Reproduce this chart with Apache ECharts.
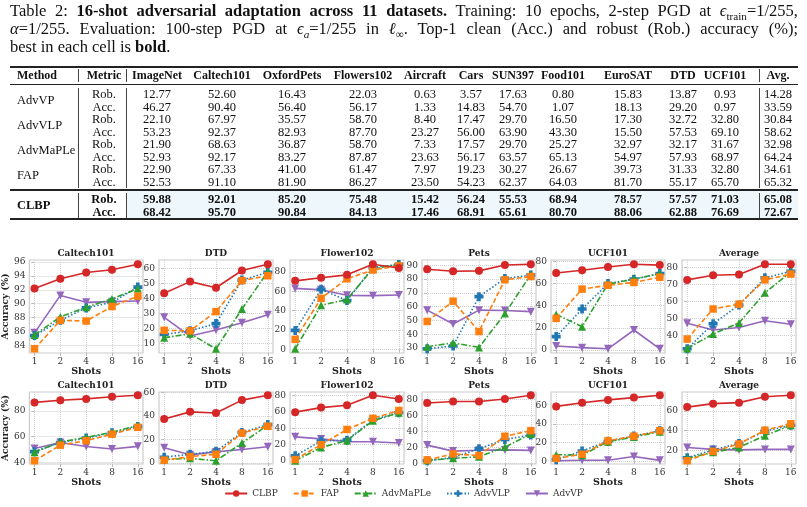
<!DOCTYPE html>
<html>
<head>
<meta charset="utf-8">
<script src="https://cdn.jsdelivr.net/npm/echarts@6/dist/echarts.min.js"></script>
<style>
body { margin: 0; background: #fff; }
#page { position: relative; width: 807px; height: 507px; overflow: hidden; font-family: "Liberation Serif", "DejaVu Serif", serif; color: #111; }
#chart { position: absolute; left: 0; top: 0; width: 807px; height: 507px; }
.cap { position: absolute; left: 10px; font-size: 15px; line-height: 18px; white-space: nowrap; }
.cell { position: absolute; font-size: 12.5px; line-height: 13px; transform: translate(-50%, -50%); white-space: nowrap; }
.lcell { position: absolute; font-size: 12.5px; line-height: 13px; transform: translate(0, -50%); white-space: nowrap; }
.hd { font-size: 12px; font-weight: bold; }
.rule { position: absolute; left: 10px; width: 788px; background: #222; }
.vbar { position: absolute; width: 1px; background: #444; }
sub { font-size: 0.68em; line-height: 0; }
</style>
</head>
<body>
<div id="page">
    <div id="chart"></div>
    <div id="table"></div>
</div>
<script>
// ---- table ----
const tableCols = ['ImageNet', 'Caltech101', 'OxfordPets', 'Flowers102', 'Aircraft', 'Cars', 'SUN397', 'Food101', 'EuroSAT', 'DTD', 'UCF101', 'Avg.']
const advvpRob = ['12.77', '52.60', '16.43', '22.03', '0.63', '3.57', '17.63', '0.80', '15.83', '13.87', '0.93', '14.28']
const advvpAcc = ['46.27', '90.40', '56.40', '56.17', '1.33', '14.83', '54.70', '1.07', '18.13', '29.20', '0.97', '33.59']
const advvlpRob = ['22.10', '67.97', '35.57', '58.70', '8.40', '17.47', '29.70', '16.50', '17.30', '32.72', '32.80', '30.84']
const advvlpAcc = ['53.23', '92.37', '82.93', '87.70', '23.27', '56.00', '63.90', '43.30', '15.50', '57.53', '69.10', '58.62']
const advmapleRob = ['21.90', '68.63', '36.87', '58.70', '7.33', '17.57', '29.70', '25.27', '32.97', '32.17', '31.67', '32.98']
const advmapleAcc = ['52.93', '92.17', '83.27', '87.87', '23.63', '56.17', '63.57', '65.13', '54.97', '57.93', '68.97', '64.24']
const fapRob = ['22.90', '67.33', '41.00', '61.47', '7.97', '19.23', '30.27', '26.67', '39.73', '31.33', '32.80', '34.61']
const fapAcc = ['52.53', '91.10', '81.90', '86.27', '23.50', '54.23', '62.37', '64.03', '81.70', '55.17', '65.70', '65.32']
const clbpRob = ['59.88', '92.01', '85.20', '75.48', '15.42', '56.24', '55.53', '68.94', '78.57', '57.57', '71.03', '65.08']
const clbpAcc = ['68.42', '95.70', '90.84', '84.13', '17.46', '68.91', '65.61', '80.70', '88.06', '62.88', '76.69', '72.67']

// ---- charts (method order: CLBP, FAP, AdvMaPLe, AdvVLP, AdvVP) ----
const shots = ['1', '2', '4', '8', '16']
const methods = ['CLBP', 'FAP', 'AdvMaPLe', 'AdvVLP', 'AdvVP']
const chartTitles = ['Caltech101', 'DTD', 'Flower102', 'Pets', 'UCF101', 'Average']

const accCaltech = [[92.2, 93.6, 94.5, 94.9, 95.7], [83.5, 87.6, 87.5, 89.6, 91.1], [85.5, 88.1, 89.5, 90.7, 92.2], [85.4, 87.6, 89.4, 90.2, 92.4], [85.8, 91.2, 90.2, 90.3, 90.4]]
const accDtd = [[43.5, 51.3, 47.2, 58.7, 62.9], [18.8, 18.5, 31.3, 52.0, 55.2], [13.8, 16.5, 6.5, 33.0, 57.9], [16.0, 18.5, 23.3, 52.3, 57.5], [27.5, 15.0, 19.0, 23.8, 29.2]]
const accFlower = [[70.8, 74.0, 77.0, 88.0, 84.1], [10.2, 52.7, 73.0, 82.0, 86.3], [0.5, 45.5, 51.5, 83.5, 87.9], [19.5, 62.0, 50.5, 84.5, 87.7], [63.0, 61.5, 55.8, 55.5, 56.2]]
const accPets = [[87.2, 85.7, 86.0, 90.2, 90.8], [49.3, 64.0, 42.0, 79.5, 81.9], [31.0, 33.8, 30.5, 55.0, 83.3], [29.5, 31.5, 67.3, 80.5, 82.9], [57.5, 47.5, 57.5, 57.3, 56.4]]
const accUcf = [[69.5, 72.0, 75.0, 77.5, 76.7], [28.5, 55.0, 58.5, 61.0, 65.7], [32.0, 21.0, 59.5, 64.0, 69.0], [12.0, 37.0, 60.0, 64.0, 69.1], [3.5, 2.0, 1.0, 18.0, 1.0]]
const accAvg = [[72.8, 75.5, 76.0, 82.0, 82.0], [38.0, 55.7, 58.5, 72.8, 76.2], [32.5, 41.0, 47.5, 65.2, 77.5], [32.3, 47.0, 58.0, 74.0, 77.8], [47.3, 43.3, 44.8, 48.8, 46.7]]

const robCaltech = [[86.5, 88.2, 89.2, 90.9, 92.0], [41.5, 53.5, 57.0, 62.0, 67.3], [48.0, 56.0, 59.5, 63.5, 68.6], [48.5, 55.5, 59.0, 63.0, 68.0], [51.0, 55.5, 52.5, 50.5, 52.6]]
const robDtd = [[37.5, 43.5, 42.5, 53.5, 57.6], [2.5, 5.5, 7.5, 25.5, 31.3], [3.0, 4.0, 2.0, 17.0, 32.2], [5.0, 7.5, 10.0, 26.0, 32.7], [13.0, 7.0, 9.5, 11.5, 13.9]]
const robFlower = [[59.5, 65.0, 67.8, 80.0, 75.5], [2.0, 20.0, 38.5, 52.0, 61.5], [0.5, 16.5, 25.0, 49.0, 58.7], [6.5, 24.5, 25.5, 50.5, 58.7], [29.5, 27.0, 23.5, 23.5, 22.0]]
const robPets = [[75.5, 77.5, 77.5, 80.5, 85.2], [4.5, 12.0, 10.0, 34.0, 41.0], [4.0, 6.5, 8.5, 20.5, 36.9], [3.5, 7.5, 18.5, 30.0, 35.6], [23.0, 15.5, 16.5, 17.0, 16.4]]
const robUcf = [[59.0, 63.0, 66.0, 68.5, 71.0], [3.0, 7.5, 22.0, 27.0, 32.8], [7.0, 6.5, 21.0, 26.0, 31.7], [1.5, 11.0, 21.5, 27.0, 32.8], [0.5, 1.0, 1.0, 5.0, 0.9]]
const robAvg = [[64.0, 67.5, 68.5, 74.5, 76.0], [9.5, 19.0, 26.5, 40.5, 47.0], [12.0, 18.0, 23.0, 35.0, 45.5], [12.5, 20.5, 27.0, 39.5, 45.5], [23.0, 21.0, 20.5, 21.0, 21.0]]

const accTicks = [[84, 86, 88, 90, 92, 94, 96], [10, 20, 30, 40, 50, 60], [0, 20, 40, 60, 80], [30, 40, 50, 60, 70, 80, 90], [0, 20, 40, 60, 80], [40, 50, 60, 70, 80]]
const robTicks = [[40, 60, 80], [0, 20, 40, 60], [0, 20, 40, 60, 80], [0, 20, 40, 60, 80], [0, 20, 40, 60], [20, 40, 60]]

function buildTable(){
    const box = document.getElementById('table')
    let html = ''
    html += '<div class="cap" id="cap1" style="top:2px">Table 2: <b>16-shot adversarial adaptation across 11 datasets.</b> Training: 10 epochs, 2-step PGD at <i>ϵ</i><sub>train</sub>=1/255,</div>'
    html += '<div class="cap" id="cap2" style="top:20px"><i>α</i>=1/255. Evaluation: 100-step PGD at <i>ϵ<sub>a</sub></i>=1/255 in <i>ℓ</i><sub>∞</sub>. Top-1 clean (Acc.) and robust (Rob.) accuracy (%);</div>'
    html += '<div class="cap" id="cap3" style="top:38px">best in each cell is <b>bold</b>.</div>'
    // light blue band behind CLBP
    html += '<div style="position:absolute;left:126px;top:190px;width:672px;height:28px;background:#eef7fc"></div>'
    html += '<div class="rule" style="top:66px;height:1.6px"></div>'
    html += '<div class="rule" style="top:84px;height:1px"></div>'
    html += '<div class="rule" style="top:189px;height:1.6px"></div>'
    html += '<div class="rule" style="top:218px;height:1.6px"></div>'
    const colX = [157, 222, 292, 363, 425, 471, 513, 563, 628, 683, 725, 778]
    html += '<div class="lcell hd" style="left:17px;top:75px">Method</div>'
    html += '<div class="cell hd" style="left:104px;top:75px">Metric</div>'
    tableCols.forEach((c, i) => {
        html += '<div class="cell hd" style="left:' + colX[i] + 'px;top:75px">' + c + '</div>'
    })
    const vb = (x, y0, y1) => '<div class="vbar" style="left:' + x + 'px;top:' + y0 + 'px;height:' + (y1 - y0) + 'px"></div>'
    html += vb(78, 69, 82) + vb(126, 69, 82) + vb(759, 69, 82)
    const groups = [
        ['AdvVP', advvpRob, advvpAcc, 94, false],
        ['AdvVLP', advvlpRob, advvlpAcc, 119, false],
        ['AdvMaPLe', advmapleRob, advmapleAcc, 144, false],
        ['FAP', fapRob, fapAcc, 169, false],
        ['CLBP', clbpRob, clbpAcc, 199, true]
    ]
    groups.forEach(g => {
        const [name, rob, acc, y, bold] = g
        const y2 = y + 12.5
        const w = bold ? 'font-weight:bold;' : ''
        html += '<div class="lcell" style="left:17px;top:' + (y + 6) + 'px;' + w + '">' + name + '</div>'
        html += '<div class="cell" style="left:104px;top:' + y + 'px;' + w + '">Rob.</div>'
        html += '<div class="cell" style="left:104px;top:' + y2 + 'px;' + w + '">Acc.</div>'
        rob.forEach((v, i) => {
            html += '<div class="cell" style="left:' + colX[i] + 'px;top:' + y + 'px;' + w + '">' + v + '</div>'
            html += '<div class="cell" style="left:' + colX[i] + 'px;top:' + y2 + 'px;' + w + '">' + acc[i] + '</div>'
        })
        html += vb(78, y - 6, y2 + 6) + vb(126, y - 6, y2 + 6) + vb(759, y - 6, y2 + 6)
    })
    box.innerHTML = html

    // fit the caption: size from line 1, then stretch word gaps of lines 1-2 to the full width
    const full = 788
    const c1 = document.getElementById('cap1'), c2 = document.getElementById('cap2'), c3 = document.getElementById('cap3')
    const size = Math.min(16.5, 15 * full / c1.getBoundingClientRect().width)
    ;[c1, c2, c3].forEach(el => { el.style.fontSize = size + 'px' })
    ;[c1, c2].forEach(el => {
        const gaps = (el.textContent.match(/ /g) || []).length
        const extra = full - el.getBoundingClientRect().width
        el.style.wordSpacing = (extra / gaps) + 'px'
    })
}

function buildChart(){
    const colors = ['#d62728', '#ff7f0e', '#2ca02c', '#1f77b4', '#9467bd']
    const dashes = ['solid', [5, 2.5], [6, 2, 1.5, 2], [1.5, 2], 'solid']
    const plus = 'path://M3,0H7V3H10V7H7V10H3V7H0V3H3Z'
    const symbols = ['circle', 'rect', 'triangle', plus, 'triangle']
    const symRot = [0, 0, 0, 0, 180]
    const symSize = [8, 7.5, 8, 9, 8]
    const lefts = [29, 159, 290, 422, 551, 682]
    const rowTop = [260, 392], rowH = [93, 72]
    const rows = [[accCaltech, accDtd, accFlower, accPets, accUcf, accAvg], [robCaltech, robDtd, robFlower, robPets, robUcf, robAvg]]
    const ticks = [accTicks, robTicks]
    const font = 'DejaVu Serif'
    const grid = [], xAxis = [], yAxis = [], series = [], graphic = []
    rows.forEach((row, r) => {
        row.forEach((data, c) => {
            const gi = r * 6 + c
            grid.push({
                left: lefts[c], top: rowTop[r], width: 114, height: rowH[r],
                show: true, borderColor: '#cccccc', borderWidth: 1.2
            })
            const all = [].concat(...data)
            const lo = Math.min(...all), hi = Math.max(...all), pad = (hi - lo) * 0.05
            xAxis.push({
                type: 'value', gridIndex: gi, min: -0.2, max: 4.2,
                axisLine: { show: false },
                axisTick: { show: true, customValues: [0, 1, 2, 3, 4], length: 3, lineStyle: { color: '#bbbbbb' } },
                axisLabel: { customValues: [0, 1, 2, 3, 4], formatter: v => shots[Math.round(v)], fontSize: 9, fontFamily: font, color: '#333', margin: 4 },
                splitLine: { show: true, lineStyle: { type: 'dotted', color: '#cfcfcf', width: 1 } },
                name: 'Shots', nameLocation: 'middle', nameGap: 14,
                nameTextStyle: { fontSize: 9.5, fontWeight: 'bold', fontFamily: font, color: '#222' }
            })
            yAxis.push({
                type: 'value', gridIndex: gi, min: lo - pad, max: hi + pad,
                axisLine: { show: false },
                axisTick: { show: true, customValues: ticks[r][c], length: 3, lineStyle: { color: '#bbbbbb' } },
                axisLabel: { customValues: ticks[r][c], fontSize: 9, fontFamily: font, color: '#333', margin: 4 },
                splitLine: { show: true, lineStyle: { type: 'dotted', color: '#cfcfcf', width: 1 } },
                name: c == 0 ? 'Accuracy (%)' : '', nameLocation: 'middle', nameGap: 18, nameRotate: 90,
                nameTextStyle: { fontSize: 9, fontWeight: 'bold', fontFamily: font, color: '#222' }
            })
            data.forEach((vals, m) => {
                series.push({
                    name: methods[m], type: 'line', xAxisIndex: gi, yAxisIndex: gi,
                    data: vals.map((v, i) => [i, v]),
                    symbol: symbols[m], symbolRotate: symRot[m], symbolSize: symSize[m],
                    lineStyle: { color: colors[m], width: 1.6, type: dashes[m] },
                    itemStyle: { color: colors[m] },
                    z: 10 - m
                })
            })
            graphic.push({
                type: 'text', x: lefts[c] + 57, y: rowTop[r] - 6,
                style: { text: chartTitles[c], font: 'bold 9px "DejaVu Serif"', fill: '#222', align: 'center', verticalAlign: 'middle' }
            })
        })
    })
    const chart = echarts.init(document.getElementById('chart'))
    chart.setOption({
        animation: false,
        grid: grid, xAxis: xAxis, yAxis: yAxis, series: series, graphic: graphic,
        legend: {
            data: methods, left: 'center', top: 484, itemWidth: 22, itemHeight: 8, itemGap: 15,
            textStyle: { fontFamily: font, fontSize: 9, color: '#333' }
        }
    })
}

buildTable()
buildChart()
</script>
</body>
</html>
